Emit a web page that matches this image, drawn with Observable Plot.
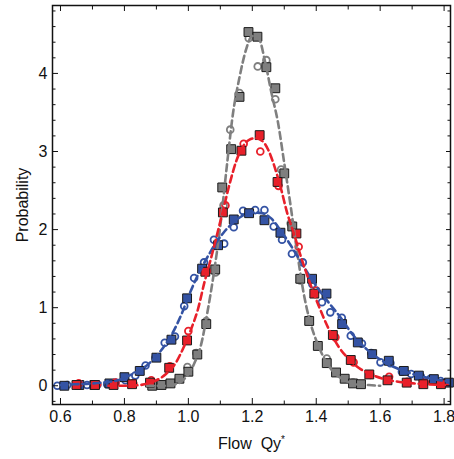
<!DOCTYPE html>
<html><head><meta charset="utf-8">
<script src="https://cdn.jsdelivr.net/npm/d3@7"></script>
<script src="https://cdn.jsdelivr.net/npm/@observablehq/plot@0.6"></script>
<style>body{margin:0;background:#fff;} #chart svg{display:block;}</style>
</head><body><div id="chart"></div>
<script>
// ---- tick values ----
const xMajor = [0.6, 0.8, 1.0, 1.2, 1.4, 1.6, 1.8];
const xMinor = [0.7, 0.9, 1.1, 1.3, 1.5, 1.7];
const yMajor = [0, 1, 2, 3, 4];
const yMinor = [-0.2, 0.2, 0.4, 0.6, 0.8, 1.2, 1.4, 1.6, 1.8, 2.2, 2.4, 2.6, 2.8, 3.2, 3.4, 3.6, 3.8, 4.2, 4.4, 4.6, 4.8];

// ---- gray series ----
const graySqX = [0.887, 0.916, 0.944, 0.972, 1.000, 1.028, 1.056, 1.084, 1.106, 1.134, 1.160, 1.188, 1.216, 1.244, 1.272, 1.300, 1.325, 1.350, 1.378, 1.405, 1.433, 1.462, 1.489, 1.515, 1.540];
const graySqY = [0.00, 0.01, 0.03, 0.09, 0.18, 0.40, 0.79, 1.49, 2.54, 3.03, 3.70, 4.53, 4.47, 4.08, 3.81, 2.72, 2.04, 1.37, 0.83, 0.51, 0.29, 0.17, 0.09, 0.03, 0.02];
const grayCiX = [0.916, 0.944, 0.970, 0.997, 1.025, 1.056, 1.085, 1.110, 1.131, 1.160, 1.189, 1.217, 1.244, 1.272, 1.290, 1.320, 1.350, 1.378, 1.405, 1.433, 1.460, 1.490, 1.515, 1.540];
const grayCiY = [0.01, 0.03, 0.09, 0.24, 0.42, 0.83, 1.45, 2.31, 3.28, 3.75, 4.45, 4.09, 4.17, 3.67, 2.77, 2.08, 1.35, 0.85, 0.52, 0.35, 0.17, 0.09, 0.04, 0.02];
const grayFitX = [0.87, 0.92, 0.96, 0.98, 1.00, 1.02, 1.04, 1.06, 1.08, 1.10, 1.12, 1.14, 1.16, 1.18, 1.20, 1.22, 1.24, 1.26, 1.28, 1.30, 1.32, 1.34, 1.36, 1.38, 1.40, 1.42, 1.44, 1.46, 1.48, 1.50, 1.52, 1.56, 1.60];
const grayFitY = [0.00, 0.00, 0.02, 0.06, 0.15, 0.30, 0.53, 0.95, 1.45, 2.05, 2.80, 3.50, 3.95, 4.30, 4.48, 4.45, 4.15, 3.75, 3.38, 2.85, 2.30, 1.72, 1.20, 0.83, 0.58, 0.39, 0.25, 0.15, 0.09, 0.05, 0.02, 0.01, 0.00];

// ---- red series ----
const redSqX = [0.650, 0.708, 0.766, 0.824, 0.880, 0.940, 0.996, 1.053, 1.108, 1.166, 1.223, 1.279, 1.338, 1.394, 1.452, 1.508, 1.566, 1.623, 1.683, 1.735, 1.790];
const redSqY = [0.01, 0.01, 0.01, 0.02, 0.04, 0.23, 0.58, 1.46, 2.22, 3.01, 3.21, 2.61, 1.95, 1.18, 0.65, 0.33, 0.145, 0.07, 0.04, 0.02, 0.02];
const redCiX = [0.657, 0.715, 0.772, 0.828, 0.884, 0.942, 1.000, 1.058, 1.116, 1.173, 1.225, 1.282, 1.345, 1.400, 1.460, 1.517, 1.569, 1.628, 1.685, 1.740, 1.790];
const redCiY = [0.03, 0.02, 0.04, 0.03, 0.07, 0.25, 0.70, 1.47, 2.31, 3.10, 3.00, 2.56, 1.78, 1.22, 0.62, 0.30, 0.14, 0.115, 0.05, 0.04, 0.02];
const redFitX = [0.75, 0.80, 0.85, 0.88, 0.90, 0.93, 0.96, 0.985, 1.01, 1.03, 1.05, 1.07, 1.09, 1.11, 1.13, 1.15, 1.17, 1.19, 1.21, 1.23, 1.25, 1.27, 1.29, 1.31, 1.33, 1.35, 1.38, 1.41, 1.44, 1.47, 1.50, 1.54, 1.58, 1.63, 1.68, 1.74, 1.82];
const redFitY = [0.00, 0.00, 0.01, 0.04, 0.07, 0.15, 0.29, 0.49, 0.74, 0.98, 1.32, 1.62, 1.94, 2.27, 2.60, 2.88, 3.06, 3.15, 3.17, 3.14, 3.02, 2.80, 2.52, 2.20, 1.95, 1.68, 1.32, 1.00, 0.72, 0.50, 0.35, 0.21, 0.13, 0.07, 0.04, 0.02, 0.01];

// ---- blue series ----
const blueSqX = [0.612, 0.659, 0.706, 0.753, 0.800, 0.848, 0.900, 0.947, 0.996, 1.043, 1.093, 1.142, 1.190, 1.238, 1.288, 1.387, 1.432, 1.481, 1.530, 1.575, 1.627, 1.674, 1.721, 1.768, 1.815];
const blueSqY = [0.00, 0.01, 0.01, 0.03, 0.11, 0.19, 0.36, 0.59, 1.12, 1.50, 1.80, 2.13, 2.21, 2.12, 1.96, 1.37, 1.18, 0.79, 0.555, 0.405, 0.32, 0.19, 0.13, 0.085, 0.04];
const blueCiX = [0.590, 0.621, 0.652, 0.683, 0.715, 0.746, 0.772, 0.803, 0.834, 0.866, 0.897, 0.926, 0.958, 0.987, 1.018, 1.049, 1.080, 1.112, 1.142, 1.171, 1.209, 1.238, 1.267, 1.293, 1.324, 1.358, 1.388, 1.418, 1.444, 1.480, 1.508, 1.543, 1.572, 1.601, 1.632, 1.668, 1.697, 1.727, 1.757, 1.789];
const blueCiY = [0.00, 0.01, 0.01, 0.01, 0.01, 0.02, 0.04, 0.07, 0.13, 0.26, 0.36, 0.55, 0.63, 1.02, 1.38, 1.58, 1.87, 1.82, 2.03, 2.24, 2.25, 2.25, 2.04, 1.87, 1.69, 1.58, 1.30, 1.07, 0.94, 0.87, 0.64, 0.54, 0.42, 0.30, 0.29, 0.18, 0.15, 0.12, 0.09, 0.06];
const blueFitX = [0.60, 0.65, 0.70, 0.75, 0.78, 0.81, 0.84, 0.87, 0.90, 0.93, 0.955, 0.98, 1.005, 1.03, 1.06, 1.085, 1.11, 1.14, 1.17, 1.20, 1.23, 1.26, 1.29, 1.32, 1.35, 1.38, 1.41, 1.44, 1.475, 1.515, 1.56, 1.61, 1.66, 1.71, 1.76, 1.82];
const blueFitY = [0.01, 0.02, 0.03, 0.05, 0.07, 0.12, 0.18, 0.26, 0.38, 0.54, 0.71, 0.93, 1.19, 1.42, 1.65, 1.82, 1.96, 2.09, 2.18, 2.22, 2.21, 2.14, 1.98, 1.80, 1.60, 1.40, 1.22, 1.06, 0.88, 0.65, 0.46, 0.31, 0.21, 0.14, 0.09, 0.05];

// ---- styles ----
const GRAY = "#7f7f7f", RED = "#e8202a", BLUE = "#3453a4";
const zip = (xs, ys) => xs.map((x, i) => ({x, y: ys[i]}));

const series = [
  {sq: zip(graySqX, graySqY), ci: zip(grayCiX, grayCiY), fit: zip(grayFitX, grayFitY), color: GRAY},
  {sq: zip(blueSqX, blueSqY), ci: zip(blueCiX, blueCiY), fit: zip(blueFitX, blueFitY), color: BLUE},
  {sq: zip(redSqX, redSqY), ci: zip(redCiX, redCiY), fit: zip(redFitX, redFitY), color: RED}
];

const marks = [];
for (const s of series) {
  marks.push(Plot.dot(s.ci, {x: "x", y: "y", r: 3.4, stroke: s.color, strokeWidth: 1.8, fill: "none"}));
  marks.push(Plot.dot(s.sq, {x: "x", y: "y", symbol: "square", r: 5.0, fill: s.color, stroke: "#1a1a1a", strokeWidth: 1}));
}
for (const s of series) {
  marks.push(Plot.line(s.fit, {x: "x", y: "y", curve: "monotone-x", stroke: s.color, strokeWidth: 2.6, strokeDasharray: "7,4"}));
}

const axisFont = 16;
marks.push(
  Plot.axisX(xMajor, {anchor: "bottom", tickSize: -6, tickPadding: 12, tickFormat: d3.format(".1f"), fontSize: axisFont, label: "Flow Qy*", labelAnchor: "center", labelOffset: 44, labelArrow: "none", stroke: "#111"}),
  Plot.axisX(xMinor, {anchor: "bottom", tickSize: -3.5, tickFormat: () => "", label: null, stroke: "#111"}),
  Plot.axisX(xMajor, {anchor: "top", tickSize: -5, tickFormat: () => "", label: null, stroke: "#111"}),
  Plot.axisX(xMinor, {anchor: "top", tickSize: -3.5, tickFormat: () => "", label: null, stroke: "#111"}),
  Plot.axisY(yMajor, {anchor: "left", tickSize: -6, tickPadding: 11, tickFormat: d3.format("d"), fontSize: axisFont, label: "Probability", labelAnchor: "center", labelOffset: 36, labelArrow: "none", stroke: "#111"}),
  Plot.axisY(yMinor, {anchor: "left", tickSize: -3.5, tickFormat: () => "", label: null, stroke: "#111"}),
  Plot.axisY(yMajor, {anchor: "right", tickSize: -5, tickFormat: () => "", label: null, stroke: "#111"}),
  Plot.axisY(yMinor, {anchor: "right", tickSize: -3.5, tickFormat: () => "", label: null, stroke: "#111"}),
  Plot.frame({stroke: "#111", strokeWidth: 1.5})
);

const chart = Plot.plot({
  width: 454,
  height: 459,
  marginLeft: 52,
  marginRight: 4,
  marginTop: 5,
  marginBottom: 55,
  style: {fontFamily: "'Liberation Sans', Arial, Helvetica, sans-serif", fontSize: "16px", color: "#111", background: "#fff"},
  x: {domain: [0.575, 1.82]},
  y: {domain: [-0.24, 4.87]},
  marks
});
document.getElementById("chart").append(chart);

// superscript asterisk in the x label
for (const t of chart.querySelectorAll("text")) {
  if (t.textContent === "Flow Qy*") {
    t.textContent = "Flow  Qy";
    const ts = document.createElementNS("http://www.w3.org/2000/svg", "tspan");
    ts.setAttribute("dy", "-0.55em");
    ts.setAttribute("font-size", "10");
    ts.textContent = "*";
    t.appendChild(ts);
  }
}
</script>
</body></html>
